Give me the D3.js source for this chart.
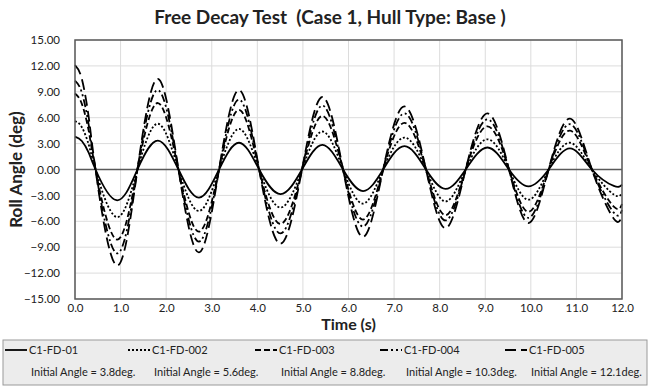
<!DOCTYPE html>
<html>
<head>
<meta charset="utf-8">
<script src="https://cdn.jsdelivr.net/npm/d3@7"></script>
<style>
  body { margin: 0; background: #fff; }
  text { font-family: Lato, "Open Sans", sans-serif; fill: #222; }
</style>
</head>
<body>
<div id="chart"></div>
<script>
// time stamps of the points (peaks, zero crossings, troughs)
var times = [0, 0.15, 0.30, 0.45, 0.91, 1.37, 1.82, 2.27, 2.72, 3.16, 3.60, 4.04, 4.51, 4.98, 5.43,
             5.88, 6.32, 6.76, 7.23, 7.70, 8.13, 8.57, 9.05, 9.52, 9.95, 10.39, 10.86, 11.34, 11.82, 12.0];

var fd01  = [3.8, 3.3, 1.95, 0, -3.56, 0, 3.35, 0, -3.25, 0, 3.1, 0, -2.85, 0, 2.85,
             0, -2.5, 0, 2.7, 0, -2.25, 0, 2.55, 0, -1.95, 0, 2.45, 0, -1.9, -1.75];
var fd002 = [5.6, 4.9, 2.9, 0, -5.5, 0, 5.3, 0, -4.8, 0, 4.7, 0, -4.4, 0, 4.4,
             0, -3.95, 0, 3.7, 0, -3.7, 0, 3.5, 0, -3.5, 0, 3.1, 0, -2.9, -2.7];
var fd003 = [8.8, 7.6, 4.5, 0, -8.1, 0, 7.7, 0, -7.2, 0, 6.9, 0, -6.3, 0, 6.2,
             0, -5.8, 0, 5.4, 0, -5.3, 0, 5.0, 0, -4.9, 0, 4.5, 0, -4.3, -4.0];
var fd004 = [10.3, 8.9, 5.2, 0, -9.7, 0, 9.2, 0, -8.35, 0, 8.1, 0, -7.4, 0, 7.4,
             0, -6.6, 0, 6.5, 0, -5.9, 0, 5.8, 0, -5.6, 0, 5.25, 0, -5.0, -4.7];
var fd005 = [12.1, 10.5, 6.1, 0, -11.1, 0, 10.5, 0, -9.6, 0, 9.2, 0, -8.6, 0, 8.4,
             0, -7.8, 0, 7.3, 0, -6.8, 0, 6.5, 0, -6.2, 0, 5.9, 0, -5.7, -5.3];

var seriesNames = ["C1-FD-01", "C1-FD-002", "C1-FD-003", "C1-FD-004", "C1-FD-005"];
var seriesLabels = ["Initial Angle = 3.8deg.", "Initial Angle = 5.6deg.", "Initial Angle = 8.8deg.",
                    "Initial Angle = 10.3deg.", "Initial Angle = 12.1deg."];
var seriesValues = [fd01, fd002, fd003, fd004, fd005];

var xTicks = d3.range(0, 12.01, 1);
var yTicks = d3.range(-15, 15.01, 3);

var title = "Free Decay Test  (Case 1, Hull Type: Base )";
var xTitle = "Time (s)";
var yTitle = "Roll Angle (deg)";

var width = 650, height = 387;
var margin = {top: 40, right: 28, bottom: 88, left: 75};
var dashes = [null, "2,2", "6,3", "8,3,2,3,2,3", "11,5"];
var legendX = [5, 128, 255, 380, 505];

var svg = d3.select("#chart").append("svg").attr("width", width).attr("height", height);

var x = d3.scaleLinear().domain([0, 12]).range([margin.left, width - margin.right]);
var y = d3.scaleLinear().domain([-15, 15]).range([height - margin.bottom, margin.top]);

// grid
svg.append("g").selectAll("line").data(xTicks).enter().append("line")
    .attr("x1", function(d){ return x(d); }).attr("x2", function(d){ return x(d); })
    .attr("y1", y(-15)).attr("y2", y(15))
    .attr("stroke", "#dcdcdc").attr("stroke-width", 1);
svg.append("g").selectAll("line").data(yTicks).enter().append("line")
    .attr("x1", x(0)).attr("x2", x(12))
    .attr("y1", function(d){ return y(d); }).attr("y2", function(d){ return y(d); })
    .attr("stroke", "#dcdcdc").attr("stroke-width", 1);

// zero line
svg.append("line").attr("x1", x(0)).attr("x2", x(12)).attr("y1", y(0)).attr("y2", y(0))
    .attr("stroke", "#595959").attr("stroke-width", 1.5);

// axes (labels only)
var yAxis = svg.append("g").attr("transform", "translate(" + (margin.left - 12) + ",0)")
    .call(d3.axisLeft(y).tickValues(yTicks).tickFormat(d3.format(".2f")).tickSize(0));
yAxis.select(".domain").remove();
yAxis.selectAll("text").attr("font-size", "11.5px").attr("fill", "#404040")
    .style("font-family", "Lato, sans-serif");

var xAxis = svg.append("g").attr("transform", "translate(0," + (height - margin.bottom + 2) + ")")
    .call(d3.axisBottom(x).tickValues(xTicks).tickFormat(d3.format(".1f")).tickSize(0));
xAxis.select(".domain").remove();
xAxis.selectAll("text").attr("font-size", "11.5px").attr("fill", "#404040")
    .style("font-family", "Lato, sans-serif");

// series
var line = d3.line()
    .x(function(d, i){ return x(times[i]); })
    .y(function(d){ return y(d); })
    .curve(d3.curveNatural);

svg.append("g").selectAll("path").data(seriesValues).enter().append("path")
    .attr("d", function(d){ return line(d); })
    .attr("fill", "none")
    .attr("stroke", "#000")
    .attr("stroke-width", 1.8)
    .attr("stroke-dasharray", function(d, i){ return dashes[i]; });

// plot border
svg.append("rect").attr("x", x(0)).attr("y", y(15))
    .attr("width", x(12) - x(0)).attr("height", y(-15) - y(15))
    .attr("fill", "none").attr("stroke", "#595959").attr("stroke-width", 1.5);

// titles
svg.append("text").attr("x", 330).attr("y", 24).attr("text-anchor", "middle")
    .style("white-space", "pre")
    .attr("font-size", "19px").attr("font-weight", "bold").text(title);
svg.append("text").attr("x", x(6)).attr("y", 330).attr("text-anchor", "middle")
    .attr("font-size", "16px").attr("font-weight", "bold").text(xTitle);
svg.append("text").attr("transform", "translate(22," + y(0) + ") rotate(-90)")
    .attr("text-anchor", "middle").attr("font-size", "17px").attr("font-weight", "bold").text(yTitle);

// legend
svg.append("rect").attr("x", 3).attr("y", 340).attr("width", 644).attr("height", 45)
    .attr("fill", "#ececec").attr("stroke", "#9a9a9a").attr("stroke-width", 1);

var lg = svg.append("g").selectAll("g").data(seriesNames).enter().append("g")
    .attr("transform", function(d, i){ return "translate(" + legendX[i] + ",0)"; });
lg.append("line").attr("x1", 0).attr("x2", 22).attr("y1", 350).attr("y2", 350)
    .attr("stroke", "#000").attr("stroke-width", 1.8)
    .attr("stroke-dasharray", function(d, i){ return dashes[i]; });
lg.append("text").attr("x", 24).attr("y", 354).attr("font-size", "11px").attr("fill", "#404040").text(function(d){ return d; });
lg.append("text").attr("x", 26).attr("y", 376).attr("font-size", "11px").attr("fill", "#404040")
    .text(function(d, i){ return seriesLabels[i]; });
</script>
</body>
</html>
